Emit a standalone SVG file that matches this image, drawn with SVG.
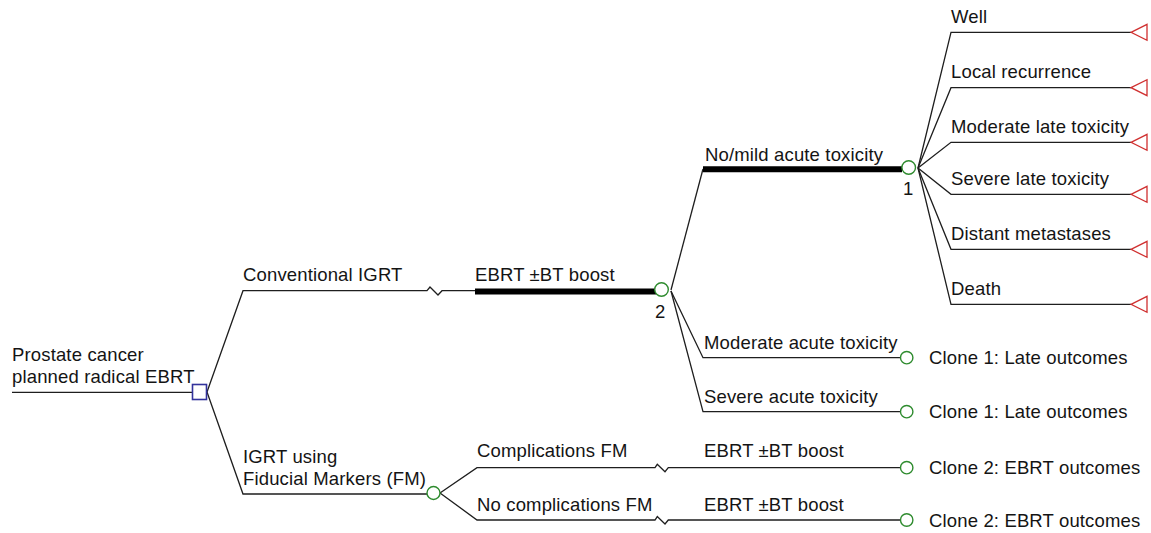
<svg xmlns="http://www.w3.org/2000/svg" width="1151" height="533" viewBox="0 0 1151 533">
<style>
text{font-family:"Liberation Sans",Arial,sans-serif;font-size:18.5px;fill:#141414;letter-spacing:0.15px}
.ln{fill:none;stroke:#1e1e1e;stroke-width:1.3}
.thick{fill:none;stroke:#000;stroke-width:6}
.chance{fill:#fff;stroke:#2e8b2e;stroke-width:1.4}
.dec{fill:#fff;stroke:#33339c;stroke-width:1.6}
.term{fill:#fff;stroke:#d03030;stroke-width:1.3}
</style>
<rect width="1151" height="533" fill="#fff"/>
<g id="connectors">
<path class="ln" d="M12,392.3H192"/>
<path class="ln" d="M207,392L243,290.7H427L430,287L438,295L442,290.7H476"/>
<path class="thick" d="M475,291.5H656"/>
<path class="ln" d="M207,392L243,494H427"/>
<path class="ln" d="M671,290L703,169"/>
<path class="thick" d="M703,169.2H902"/>
<path class="ln" d="M671,291L703,357.7H900.5"/>
<path class="ln" d="M671,291L703,411.7H900.5"/>
<path class="ln" d="M918,168L951,32.3H1131"/>
<path class="ln" d="M918,168L951,87.7H1131"/>
<path class="ln" d="M918,168L951,142.3H1131"/>
<path class="ln" d="M918,168L951,194.3H1131"/>
<path class="ln" d="M918,168L951,249.3H1131"/>
<path class="ln" d="M918,168L951,304.3H1131"/>
<path class="ln" d="M440,493L477,467.7H655L657.3,464.3L665,471.7L668.3,467.7H900.5"/>
<path class="ln" d="M440,493L477,520H655L657.3,516.6L665,524L668.3,520H900.5"/>
</g>
<g id="root">
<text x="12" y="361">Prostate cancer</text>
<text x="12" y="383">planned radical EBRT</text>
<rect class="dec" x="192.5" y="384.5" width="14" height="15"/>
</g>
<g id="conventional">
<text x="243" y="281">Conventional IGRT</text>
</g>
<g id="ebrt1">
<text x="475" y="281">EBRT ±BT boost</text>
<circle class="chance" cx="661.5" cy="289.5" r="6.8"/>
<text x="655" y="318">2</text>
</g>
<g id="nomild">
<text x="705" y="161">No/mild acute toxicity</text>
<circle class="chance" cx="908.7" cy="167.5" r="6.8"/>
<text x="903" y="195">1</text>
</g>
<g id="well">
<text x="951" y="23">Well</text>
<polygon class="term" points="1131,32.3 1147,24.3 1147,40.3"/>
</g>
<g id="local">
<text x="951" y="77.5">Local recurrence</text>
<polygon class="term" points="1131,87.7 1147,79.7 1147,95.7"/>
</g>
<g id="modlate">
<text x="951" y="132.5">Moderate late toxicity</text>
<polygon class="term" points="1131,142.3 1147,134.3 1147,150.3"/>
</g>
<g id="sevlate">
<text x="951" y="185">Severe late toxicity</text>
<polygon class="term" points="1131,194.3 1147,186.3 1147,202.3"/>
</g>
<g id="distant">
<text x="951" y="240">Distant metastases</text>
<polygon class="term" points="1131,249.3 1147,241.3 1147,257.3"/>
</g>
<g id="death">
<text x="951" y="295">Death</text>
<polygon class="term" points="1131,304.3 1147,296.3 1147,312.3"/>
</g>
<g id="modacute">
<text x="704" y="349">Moderate acute toxicity</text>
<circle class="chance" cx="906.7" cy="357.7" r="6.2"/>
<text x="929" y="364">Clone 1: Late outcomes</text>
</g>
<g id="sevacute">
<text x="704" y="403">Severe acute toxicity</text>
<circle class="chance" cx="906.7" cy="411.7" r="6.2"/>
<text x="929" y="418">Clone 1: Late outcomes</text>
</g>
<g id="fm">
<text x="243" y="463">IGRT using</text>
<text x="243" y="485">Fiducial Markers (FM)</text>
<circle class="chance" cx="433.5" cy="493" r="6.5"/>
</g>
<g id="compfm">
<text x="477" y="457">Complications FM</text>
<text x="704" y="457">EBRT ±BT boost</text>
<circle class="chance" cx="906.7" cy="467.7" r="6.2"/>
<text x="929" y="474">Clone 2: EBRT outcomes</text>
</g>
<g id="nocompfm">
<text x="477" y="510.5">No complications FM</text>
<text x="704" y="511">EBRT ±BT boost</text>
<circle class="chance" cx="906.7" cy="520" r="6.2"/>
<text x="929" y="527">Clone 2: EBRT outcomes</text>
</g>
</svg>
